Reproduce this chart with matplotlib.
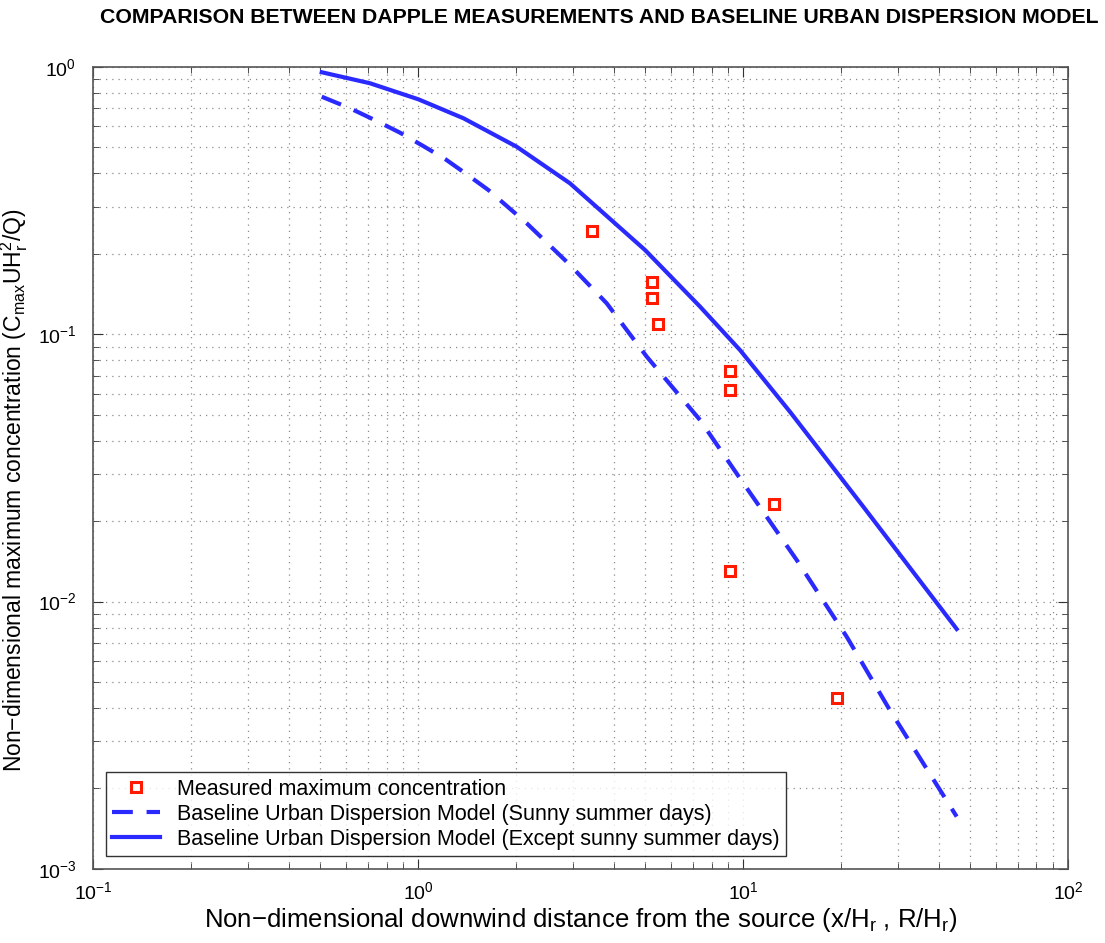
import matplotlib
matplotlib.use("Agg")
import matplotlib.pyplot as plt
from matplotlib import font_manager

# measured DAPPLE points
meas_x = [3.42, 5.24, 5.24, 5.49, 9.12, 9.12, 12.5, 9.12, 19.5]
meas_y = [0.2435, 0.157, 0.137, 0.109, 0.0729, 0.0619, 0.0232, 0.01305, 0.00435]

# baseline model, except sunny summer days (solid)
solid_x = [0.5055, 0.7115, 1.002, 1.379, 2.012, 2.935, 4.994, 7.375, 9.79, 13.95, 23.45, 45.45]
solid_y = [0.9554, 0.869, 0.757, 0.643, 0.503, 0.367, 0.2067, 0.1269, 0.0873, 0.0513, 0.02265, 0.0079]

# baseline model, sunny summer days (dashed)
dash_x = [0.5055, 0.6177, 0.746, 0.88, 1.038, 1.211, 1.412, 1.645, 2.16, 2.9, 3.807,
          5.055, 7.375, 9.79, 14.63, 20.85, 28.3, 45.45]
dash_y = [0.774, 0.7005, 0.628, 0.5678, 0.506, 0.4527, 0.3968, 0.3467, 0.2602, 0.1843, 0.1306,
          0.0825, 0.0478, 0.0289, 0.01431, 0.00739, 0.00393, 0.00157]

names = [f.name for f in font_manager.fontManager.ttflist]
base_font = "Liberation Sans" if "Liberation Sans" in names else "DejaVu Sans"

plt.rcParams["font.family"] = [base_font, "DejaVu Sans"]
plt.rcParams["mathtext.fontset"] = "custom"
plt.rcParams["mathtext.rm"] = base_font
plt.rcParams["mathtext.it"] = base_font
plt.rcParams["mathtext.default"] = "regular"

fig = plt.figure(figsize=(11.05, 9.43), dpi=100)
ax = fig.add_axes([0.0842, 0.0785, 0.8823, 0.8505])

blue = "#2a2aff"
ax.plot(meas_x, meas_y, linestyle="none", marker="s", markersize=7,
        markerfacecolor="white", markeredgecolor="#ff1a00", markeredgewidth=2.2,
        label="Measured maximum concentration")
ax.plot(dash_x, dash_y, color=blue, linewidth=3, linestyle=(0, (5, 3.3)),
        label="Baseline Urban Dispersion Model (Sunny summer days)")
ax.plot(solid_x, solid_y, color=blue, linewidth=3,
        label="Baseline Urban Dispersion Model (Except sunny summer days)")

ax.set_xscale("log")
ax.set_yscale("log")
ax.set_xlim(0.1, 100)
ax.set_ylim(1e-3, 1)

ax.grid(True, which="both", color="#8c8c8c", linestyle=(0, (1, 4)), linewidth=0.9)
ax.tick_params(which="both", direction="in", top=True, right=True,
               labelsize=14, color="#333333")
ax.tick_params(which="major", length=7)
ax.tick_params(which="minor", length=4)
ax.tick_params(axis="x", which="major", pad=9)
ax.tick_params(axis="y", which="major", pad=12)
for s in ax.spines.values():
    s.set_color("#555555")
    s.set_linewidth(1.2)

ax.set_xlabel("Non\u2212dimensional downwind distance from the source (x/H$_r$ , R/H$_r$)",
              fontsize=18.5, labelpad=2)
ax.set_ylabel("Non\u2212dimensional maximum concentration (C$_{max}$UH$_r^2$/Q)",
              fontsize=16.5)
ax.yaxis.set_label_coords(-0.0646, 0.4726)

leg = ax.legend(loc="lower left", fontsize=15.5, frameon=True, fancybox=False,
                borderpad=0.3, labelspacing=0.18, handlelength=2.2,
                handletextpad=0.8, borderaxespad=0.6)
leg.get_frame().set_edgecolor("black")
leg.get_frame().set_linewidth(1.0)

fig.text(0.542, 0.981, "COMPARISON BETWEEN DAPPLE MEASUREMENTS AND BASELINE URBAN DISPERSION MODEL",
         ha="center", va="center", fontsize=15.3, fontweight="bold")

fig.savefig("out.png", dpi=100)
